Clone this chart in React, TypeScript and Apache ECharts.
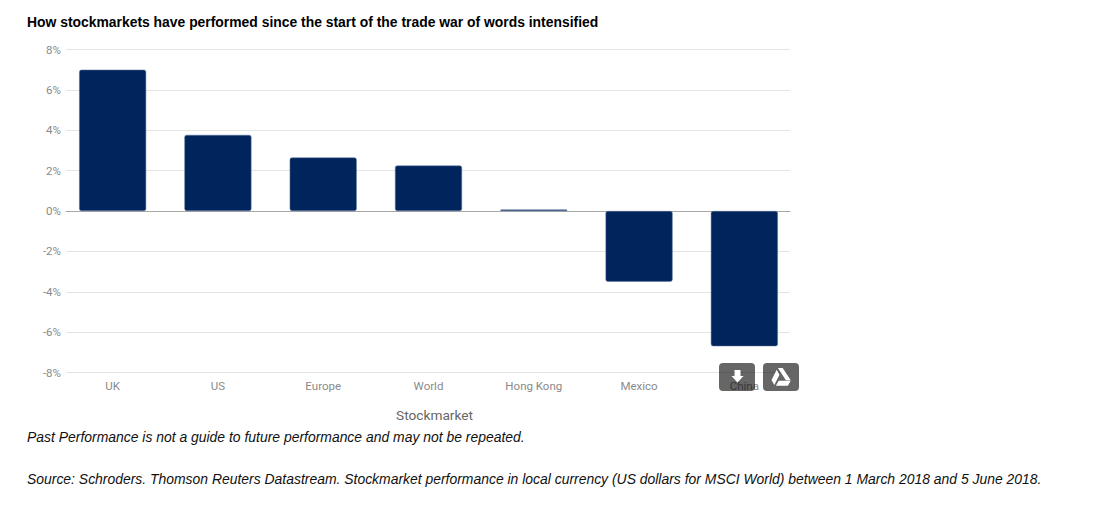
import React, { useEffect, useRef } from "react";
import * as echarts from "echarts";

const categories = ["UK", "US", "Europe", "World", "Hong Kong", "Mexico", "China"];
const values = [7.0, 3.77, 2.65, 2.25, 0.07, -3.5, -6.7];
const titleText = "How stockmarkets have performed since the start of the trade war of words intensified";
const note1 = "Past Performance is not a guide to future performance and may not be repeated.";
const note2 = "Source: Schroders. Thomson Reuters Datastream. Stockmarket performance in local currency (US dollars for MSCI World) between 1 March 2018 and 5 June 2018.";
const axisName = "Stockmarket";

const LABEL = "#8a8a8a";
const NAVY = "#00245c";
const DRIVE = "M8 0 L14 0 L24 14.5 L18 14.5 Z M6.5 2 L10 8 L3.5 20 L0 14 Z M5.5 21 L9 15 L24 15 L20.5 21 Z";

echarts.graphic.registerShape("driveLogo", (echarts.graphic as any).extendPath(DRIVE, {}));

export default function App() {
  const ref = useRef<HTMLDivElement>(null);
  useEffect(() => {
    if (!ref.current) return;
    const chart = echarts.init(ref.current, undefined, { renderer: "svg" });
    chart.setOption({
      animation: false,
      backgroundColor: "#fff",
      title: [
        { text: titleText, left: 27, top: 15, textStyle: { fontFamily: "Liberation Sans", fontSize: 13.9, fontWeight: "bold", color: "#000" }, padding: 0 },
        { text: note1, left: 27, top: 429.5, textStyle: { fontFamily: "Liberation Sans", fontSize: 13.93, fontStyle: "italic", fontWeight: "normal", color: "#111" }, padding: 0 },
        { text: note2, left: 27, top: 471.5, textStyle: { fontFamily: "Liberation Sans", fontSize: 13.93, fontStyle: "italic", fontWeight: "normal", color: "#111" }, padding: 0 },
      ],
      grid: [
        { left: 60, width: 737, top: 49.5, height: 323 },
        { left: 66, width: 724, top: 49.5, height: 323 },
      ],
      xAxis: [
        {
          gridIndex: 0,
          type: "category",
          data: categories,
          position: "bottom",
          axisLine: { show: false, onZero: false },
          axisTick: { show: false },
          axisLabel: { color: LABEL, fontFamily: "Roboto", fontSize: 11.5, margin: 7, interval: 0 },
          name: axisName,
          nameLocation: "middle",
          nameGap: 35,
          nameTextStyle: { color: "#666", fontFamily: "Roboto", fontSize: 13.7, padding: [0, 0, 0, 12] },
        },
        {
          gridIndex: 1,
          type: "category",
          data: categories,
          axisLine: { show: true, onZero: true, lineStyle: { color: "#a8a8a8", width: 1 } },
          axisTick: { show: false },
          axisLabel: { show: false },
        },
      ],
      yAxis: [
        {
          gridIndex: 0,
          type: "value",
          min: -8,
          max: 8,
          interval: 2,
          axisLine: { show: false },
          axisTick: { show: false },
          axisLabel: { show: false },
          splitLine: { show: false },
        },
        {
          gridIndex: 1,
          type: "value",
          min: -8,
          max: 8,
          interval: 2,
          axisLine: { show: false },
          axisTick: { show: false },
          axisLabel: { color: LABEL, fontFamily: "Roboto", fontSize: 11.5, margin: 5, formatter: "{value}%" },
          splitLine: { show: true, lineStyle: { color: "#e4e4e4", width: 1 } },
        },
      ],
      series: [
        {
          type: "bar",
          xAxisIndex: 0,
          yAxisIndex: 0,
          data: values,
          barWidth: 67,
          z: 5,
          itemStyle: { color: NAVY, borderRadius: 2, borderColor: "#5d76a0", borderWidth: 0.5 },
        },
      ],
      graphic: [
        { type: "rect", z: 20, shape: { x: 719, y: 363, width: 36, height: 28, r: 4 }, style: { fill: "rgba(0,0,0,0.6)" } },
        { type: "rect", z: 21, shape: { x: 734.5, y: 370, width: 6, height: 7 }, style: { fill: "#fff" } },
        { type: "polygon", z: 21, shape: { points: [[731.5, 376], [743.5, 376], [737.5, 382.5]] }, style: { fill: "#fff" } },
        { type: "rect", z: 20, shape: { x: 763, y: 363, width: 36, height: 28, r: 4 }, style: { fill: "rgba(0,0,0,0.6)" } },
        { type: "driveLogo", z: 21, x: 771.5, y: 368, scaleX: 0.8, scaleY: 0.85, style: { fill: "#fff" } },
      ],
    });
    return () => chart.dispose();
  }, []);
  return <div ref={ref} style={{ position: "absolute", left: 0, top: 0, width: 1098, height: 507 }} />;
}
